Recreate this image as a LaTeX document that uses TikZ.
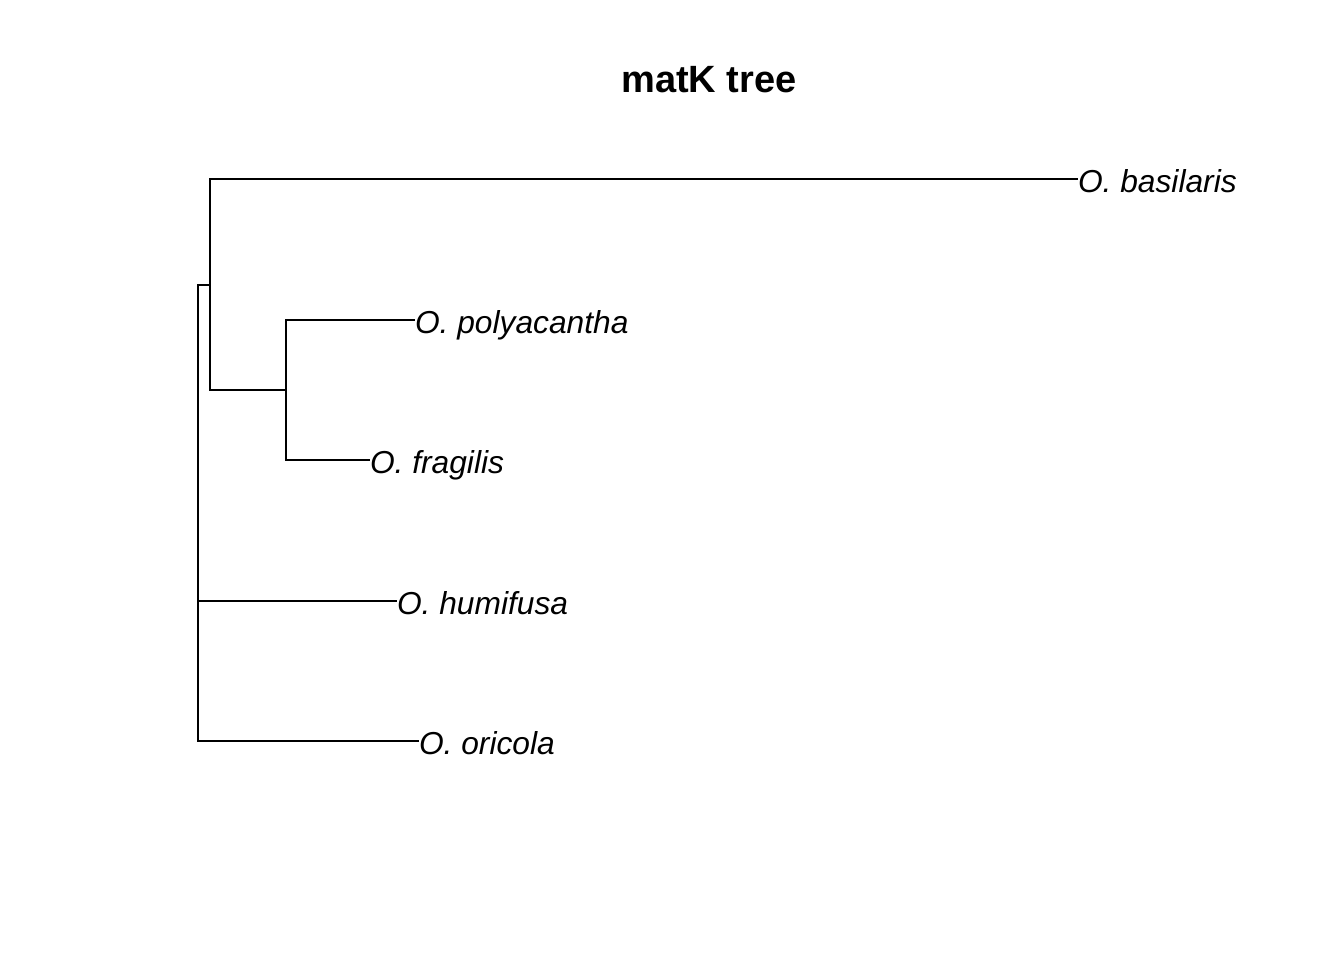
\documentclass[tikz,border=0pt]{standalone}
\usepackage{fontspec}
\setmainfont{Liberation Sans}
\begin{document}
\begin{tikzpicture}[x=0.75pt, y=-0.75pt, line width=1.5pt, line cap=rect,
	tip/.style={anchor=west, inner sep=0pt, font=\itshape\fontsize{23.8}{26}\selectfont, text height=19.5pt, text depth=0pt}]
	\useasboundingbox (0,0) rectangle (1344,960);
	\node[font=\bfseries\fontsize{28.5}{32}\selectfont] (title) at (709,80) {matK tree};
	% internal nodes
	\coordinate (root) at (198,285);
	\coordinate (n1) at (210,285);
	\coordinate (n2) at (286,390);
	% tips
	\node[tip] (bas) at (1077,179) {O. basilaris};
	\node[tip] (poly) at (414,320) {O. polyacantha};
	\node[tip] (frag) at (369,460) {O. fragilis};
	\node[tip] (hum) at (396,601) {O. humifusa};
	\node[tip] (ori) at (418,741) {O. oricola};
	\draw (bas.west) -| (n1) |- (n2);
	\draw (poly.west) -| (n2) |- (frag.west);
	\draw (n1) -- (root) |- (ori.west);
	\draw (root |- hum.west) -- (hum.west);
\end{tikzpicture}
\end{document}
